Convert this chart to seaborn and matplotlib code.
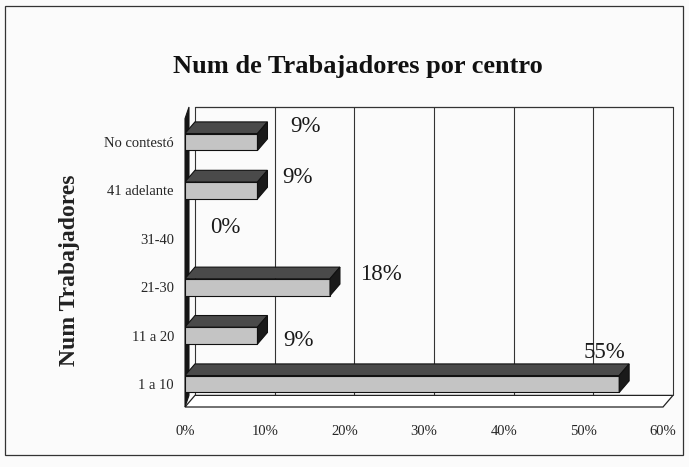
import seaborn as sns
import pandas as pd
import matplotlib.pyplot as plt
from matplotlib.patches import Polygon, Rectangle

# data (percent of centres)
categorias = ["No contestó", "41 adelante", "31-40", "21-30", "11 a 20", "1 a 10"]
porcentajes = [9.1, 9.1, 0.0, 18.2, 9.1, 54.5]
etiquetas = ["9%", "9%", "0%", "18%", "9%", "55%"]
xticks = [0, 10, 20, 30, 40, 50, 60]

# where excel had dragged the value labels (offset from bar end, in data units)
label_offsets = [(6.0, -0.31), (5.0, -0.27), (5.1, -0.23), (6.4, -0.27), (5.2, 0.10), (-1.9, -0.66)]

sns.set_theme(style="white")
plt.rcParams['font.family'] = ['Liberation Serif', 'DejaVu Serif']

fig = plt.figure(figsize=(6.89, 4.67), dpi=100)
fig.patch.set_facecolor("#fbfbfb")
ax = fig.add_axes([185 / 689, 1 - 407 / 467, 478 / 689, 300 / 467])
ax.set_facecolor("none")

df = pd.DataFrame({"Num Trabajadores": categorias, "Porcentaje": porcentajes})
sns.barplot(data=df, x="Porcentaje", y="Num Trabajadores", order=categorias,
            color="#c4c4c4", saturation=1, width=0.35, edgecolor="#111111",
            linewidth=0.8, ax=ax, zorder=3)

ytop, ybot = -0.723, 5.475
ax.set_xlim(0, 60)
ax.set_ylim(ybot, ytop)

# fake 3d depth
dx, dy = 1.25, 0.24
for p in list(ax.patches):
    x0, w, y0, h = p.get_x(), p.get_width(), p.get_y(), p.get_height()
    if w <= 0:
        p.set_visible(False)
        continue
    top = Polygon([(x0, y0), (x0 + w, y0), (x0 + w + dx, y0 - dy), (x0 + dx, y0 - dy)],
                  closed=True, facecolor="#4a4a4a", edgecolor="#111111", lw=0.8, zorder=3)
    side = Polygon([(x0 + w, y0), (x0 + w + dx, y0 - dy), (x0 + w + dx, y0 + h - dy), (x0 + w, y0 + h)],
                   closed=True, facecolor="#1a1a1a", edgecolor="#111111", lw=0.8, zorder=3)
    ax.add_patch(top)
    ax.add_patch(side)

# back wall + gridlines
for v in xticks:
    ax.plot([v + dx, v + dx], [ytop, ybot - dy], color="#333333", lw=0.8, zorder=1, clip_on=False)
ax.plot([dx, 60 + dx], [ytop, ytop], color="#333333", lw=0.9, zorder=1, clip_on=False)
# floor
floor = Polygon([(0, ybot), (60, ybot), (60 + dx, ybot - dy), (dx, ybot - dy)],
                closed=True, facecolor="white", edgecolor="#222222", lw=0.9, zorder=2, clip_on=False)
ax.add_patch(floor)
# left wall
wall = Polygon([(0, ybot), (dx * 0.4, ybot - dy), (dx * 0.4, ytop), (0, ytop + dy)],
               closed=True, facecolor="#151515", edgecolor="#151515", lw=0.8, zorder=2, clip_on=False)
ax.add_patch(wall)

for i, (val, txt) in enumerate(zip(porcentajes, etiquetas)):
    ox, oy = label_offsets[i]
    ax.text(val + ox, i + oy, txt, ha="center", va="center", fontsize=16.5, color="#1a1a1a")

sns.despine(ax=ax, top=True, right=True, left=True, bottom=True)
ax.set_xticks(xticks)
ax.set_xticklabels([f"{t}%" for t in xticks], fontsize=10.5)
ax.set_yticks(range(len(categorias)))
ax.set_yticklabels(categorias, fontsize=10.5)
ax.tick_params(axis="y", length=0, pad=8)
ax.tick_params(axis="x", length=0, pad=13)
ax.set_xlabel("")
ax.set_ylabel("")

fig.text(358 / 689, 1 - 67 / 467, "Num de Trabajadores por centro", ha="center", va="center",
         fontsize=19, fontweight="bold", color="#111111")
fig.text(70 / 689, 1 - 270 / 467, "Num Trabajadores", ha="center", va="center", rotation=90,
         fontsize=17, fontweight="bold", color="#222222")

fig.patches.append(Rectangle((5 / 689, 1 - 455 / 467), 678 / 689, 449 / 467,
                             transform=fig.transFigure, fill=False, edgecolor="#333333", lw=0.9))

fig.savefig("out.png", dpi=100)
